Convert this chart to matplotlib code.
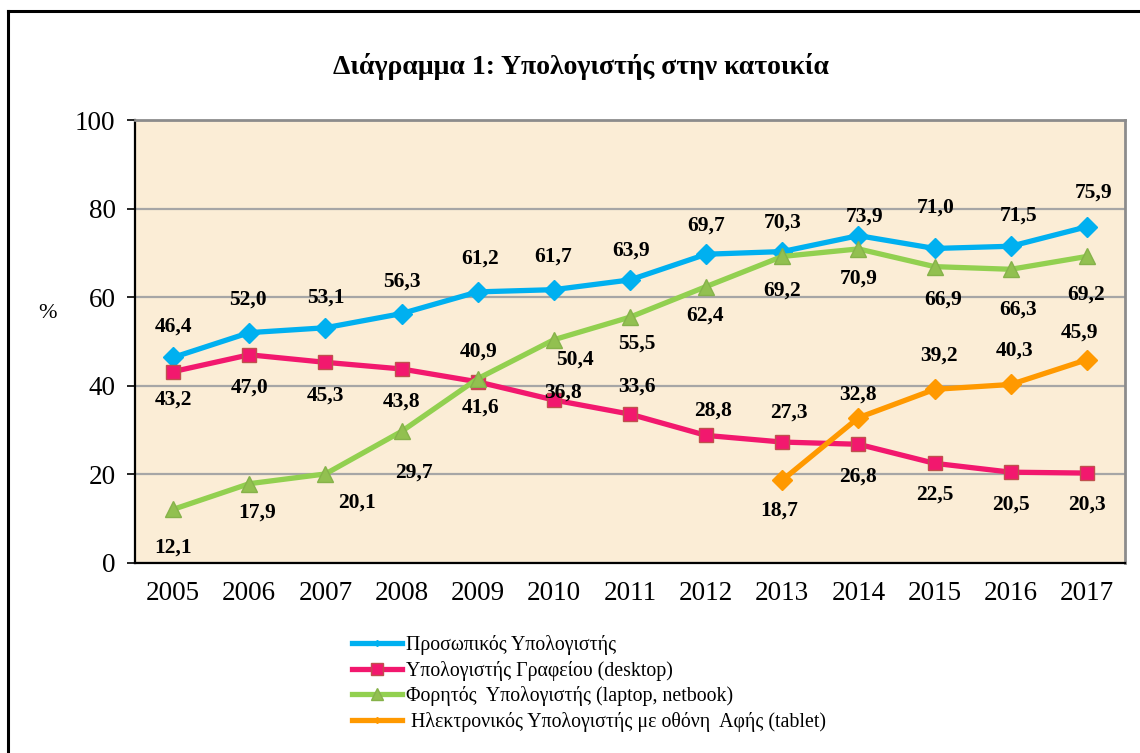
import matplotlib
matplotlib.use("Agg")
import matplotlib.pyplot as plt
from matplotlib.lines import Line2D
import numpy as np

plt.rcParams['font.family'] = ['Liberation Serif', 'DejaVu Serif']

years = ['2005', '2006', '2007', '2008', '2009', '2010', '2011', '2012', '2013', '2014', '2015', '2016', '2017']
pc = [46.4, 52.0, 53.1, 56.3, 61.2, 61.7, 63.9, 69.7, 70.3, 73.9, 71.0, 71.5, 75.9]
desktop = [43.2, 47.0, 45.3, 43.8, 40.9, 36.8, 33.6, 28.8, 27.3, 26.8, 22.5, 20.5, 20.3]
laptop = [12.1, 17.9, 20.1, 29.7, 41.6, 50.4, 55.5, 62.4, 69.2, 70.9, 66.9, 66.3, 69.2]
tablet = [None, None, None, None, None, None, None, None, 18.7, 32.8, 39.2, 40.3, 45.9]

names = ['Προσωπικός Υπολογιστής',
         'Υπολογιστής Γραφείου (desktop)',
         'Φορητός  Υπολογιστής (laptop, netbook)',
         ' Ηλεκτρονικός Υπολογιστής με οθόνη  Αφής (tablet)']
title = 'Διάγραμμα 1: Υπολογιστής στην κατοικία'

# label offsets in pixels (dx right, dy down)
off_pc = [(0, -31), (-1, -33), (0, -30), (0, -32), (2, -33), (-1, -33), (1, -29),
          (0, -29), (0, -29), (6, -19), (1, -41), (8, -31), (7, -34)]
off_desk = [(0, 28), (0, 33), (0, 33), (0, 33), (1, -30), (9, -7), (7, -28),
            (7, -25), (7, -29), (0, 32), (0, 31), (0, 32), (0, 32)]
off_lap = [(0, 38), (8, 29), (32, 29), (12, 41), (3, 29), (21, 20), (7, 26),
           (-1, 29), (0, 34), (0, 30), (9, 33), (7, 40), (-1, 38)]
off_tab = [None] * 8 + [(-3, 30), (0, -23), (4, -34), (4, -34), (-7, -27)]

W, H = 1140, 753
fig = plt.figure(figsize=(W / 100, H / 100), dpi=100)
fig.patch.set_facecolor('white')

ax = fig.add_axes([135 / W, 1 - 563 / H, (1125 - 135) / W, (563 - 120) / H])
ax.set_facecolor('#FBEDD6')

x = np.arange(len(years))

series = [
    (pc, '#00B0F0', 'D', 10, '#00B0F0', '#00B0F0', off_pc),
    (desktop, '#F2186E', 's', 10.5, '#F2186E', '#C0504D', off_desk),
    (laptop, '#92D050', '^', 11.5, '#92C050', '#86B24A', off_lap),
    (tablet, '#FF9900', 'D', 10, '#FF9900', '#FF9900', off_tab),
]

for vals, col, mk, ms, fc, ec, offs in series:
    xs = [xi for xi, v in zip(x, vals) if v is not None]
    ys = [v for v in vals if v is not None]
    ax.plot(xs, ys, color=col, lw=3.8, marker=mk, markersize=ms,
            markerfacecolor=fc, markeredgecolor=ec, markeredgewidth=1.0,
            solid_joinstyle='round', zorder=3)
    for xi, v, o in zip(x, vals, offs):
        if v is None:
            continue
        ax.annotate(f"{v:.1f}".replace('.', ','), (xi, v),
                    xytext=(o[0], -o[1]), textcoords='offset pixels',
                    ha='center', va='center', fontsize=15.5, fontweight='bold',
                    color='black', zorder=4)

ax.set_xlim(-0.5, len(years) - 0.5)
ax.set_ylim(0, 100)
ax.set_yticks([0, 20, 40, 60, 80, 100])
ax.set_xticks(x)
ax.set_xticklabels(years)
ax.tick_params(axis='x', length=0, pad=13, labelsize=19.5)
ax.tick_params(axis='y', length=6, width=1.2, direction='out', pad=8, labelsize=19.5)
ax.yaxis.grid(True, color='#A6A6A6', lw=1.6)
ax.set_axisbelow(True)

for s in ['left', 'bottom']:
    ax.spines[s].set_color('black')
    ax.spines[s].set_linewidth(1.6)
for s in ['top', 'right']:
    ax.spines[s].set_color('#8C8C8C')
    ax.spines[s].set_linewidth(2.0)

fig.text(47 / W, 1 - 313 / H, '%', ha='center', va='center', fontsize=16)
fig.text(581 / W, 1 - 67 / H, title, ha='center', va='center', fontsize=20,
         fontweight='bold')

# outer border (left and top)
fig.add_artist(Line2D([8 / W, 8 / W], [0, 1 - 11 / H], transform=fig.transFigure,
                      color='black', lw=2.2))
fig.add_artist(Line2D([8 / W, 1], [1 - 11 / H, 1 - 11 / H], transform=fig.transFigure,
                      color='black', lw=2.2))

handles = [
    Line2D([], [], color='#00B0F0', lw=3.8, marker='D', markersize=3, markerfacecolor='#00B0F0'),
    Line2D([], [], color='#F2186E', lw=3.8, marker='s', markersize=9,
           markerfacecolor='#F2186E', markeredgecolor='#C0504D'),
    Line2D([], [], color='#92D050', lw=3.8, marker='^', markersize=9,
           markerfacecolor='#92C050', markeredgecolor='#86B24A'),
    Line2D([], [], color='#FF9900', lw=3.8, marker='D', markersize=3, markerfacecolor='#FF9900'),
]
fig.legend(handles, names, loc='upper left', bbox_to_anchor=(352 / W, 1 - 635 / H),
           frameon=False, fontsize=14.3, handlelength=2.5, handletextpad=0.2,
           labelspacing=0.28, borderpad=0, borderaxespad=0)

fig.savefig('out.png', dpi=100, facecolor='white')
